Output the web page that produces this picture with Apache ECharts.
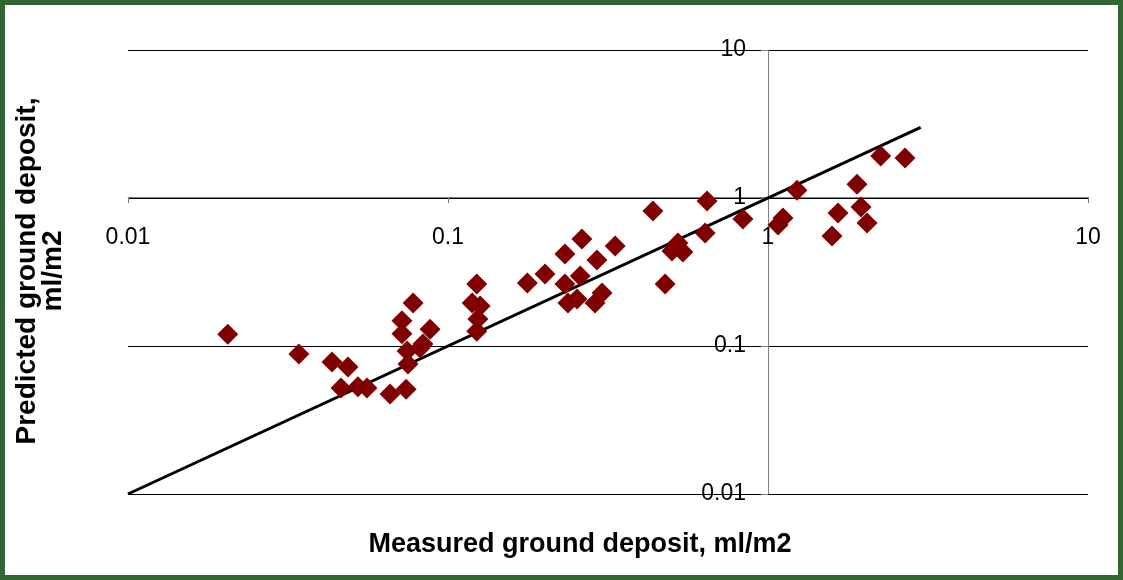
<!DOCTYPE html>
<html>
<head>
<meta charset="utf-8">
<script src="https://cdn.jsdelivr.net/npm/echarts@6/dist/echarts.min.js"></script>
<style>
  body { margin: 0; background: #fff; }
  #chart { width: 1123px; height: 580px; }
</style>
</head>
<body>
<div id="chart"></div>
<script>
// measured vs predicted ground deposit (ml/m2)
const measured = [
  0.0205, 0.0342, 0.0434, 0.0487, 0.0463, 0.0523, 0.0558, 0.0659, 0.074,
  0.0718, 0.0718, 0.0778, 0.0745, 0.075, 0.0879, 0.0835, 0.0818,
  0.123, 0.119, 0.126, 0.124, 0.123,
  0.177, 0.201, 0.232, 0.262, 0.292, 0.333, 0.232, 0.259, 0.237, 0.253, 0.288, 0.303,
  0.437, 0.477, 0.501, 0.523, 0.542, 0.636, 0.645, 0.835,
  1.232, 1.114, 1.075, 1.655, 1.585, 1.897, 1.953, 2.04, 2.25, 2.68
]
const predicted = [
  0.120, 0.0883, 0.078, 0.0722, 0.052, 0.053, 0.052, 0.0474, 0.051,
  0.148, 0.121, 0.195, 0.0925, 0.0756, 0.130, 0.103, 0.0969,
  0.262, 0.195, 0.186, 0.152, 0.126,
  0.267, 0.306, 0.419, 0.528, 0.381, 0.474, 0.262, 0.297, 0.195, 0.208, 0.195, 0.228,
  0.817, 0.262, 0.438, 0.496, 0.432, 0.580, 0.954, 0.722,
  1.13, 0.733, 0.657, 0.792, 0.554, 1.24, 0.869, 0.678, 1.92, 1.86
]
// 1:1 line
const lineX = [0.01, 3]
const lineY = [0.01, 3]
const xTicks = [0.01, 0.1, 1, 10]
const yTicks = [0.01, 0.1, 1, 10]

const font = 'Liberation Sans, Arial, sans-serif'
const axisGray = '#808080'

let points = measured.map((x, i) => [x, predicted[i]])
let line = lineX.map((x, i) => [x, lineY[i]])

const myChart = echarts.init(document.getElementById('chart'))

const option = {
  backgroundColor: '#fff',
  animation: false,
  grid: { left: 128, right: 35, top: 50, bottom: 86, outerBoundsMode: 'none' },
  xAxis: {
    type: 'log',
    logBase: 10,
    min: xTicks[0],
    max: xTicks[xTicks.length - 1],
    position: 'bottom',
    offset: -297, // sits on y = 1
    axisLine: { onZero: false, lineStyle: { color: axisGray, width: 1 } },
    axisTick: { show: true, length: 6, lineStyle: { color: axisGray } },
    axisLabel: { color: '#000', fontSize: 23, fontFamily: font, margin: 29, formatter: v => String(v) },
    splitLine: { show: false }
  },
  yAxis: {
    type: 'log',
    logBase: 10,
    min: yTicks[0],
    max: yTicks[yTicks.length - 1],
    position: 'left',
    offset: -640, // sits on x = 1
    axisLine: { onZero: false, lineStyle: { color: axisGray, width: 1 } },
    axisTick: { show: true, length: 7, lineStyle: { color: axisGray } },
    axisLabel: { color: '#000', fontSize: 23, fontFamily: font, margin: 22, formatter: v => String(v) },
    splitLine: { show: true, lineStyle: { color: '#000', width: 1 } }
  },
  series: [
    {
      type: 'line',
      data: line,
      symbol: 'none',
      lineStyle: { color: '#000', width: 3 },
      z: 2
    },
    {
      type: 'scatter',
      data: points,
      symbol: 'diamond',
      symbolSize: 21,
      itemStyle: { color: '#800000', opacity: 1 },
      z: 3
    }
  ],
  graphic: [
    {
      type: 'text',
      x: 580,
      y: 545,
      style: {
        text: 'Measured ground deposit, ml/m2',
        font: 'bold 27px ' + font,
        fill: '#000',
        align: 'center',
        verticalAlign: 'middle'
      }
    },
    {
      type: 'text',
      x: 40,
      y: 271,
      rotation: Math.PI / 2,
      style: {
        text: 'Predicted ground deposit,\nml/m2',
        font: 'bold 28px ' + font,
        lineHeight: 26,
        fill: '#000',
        align: 'center',
        verticalAlign: 'middle'
      }
    },
    {
      // green frame
      type: 'rect',
      shape: { x: 0, y: 0, width: 1123, height: 580 },
      style: { fill: 'none', stroke: '#346633', lineWidth: 10 },
      z: 100
    }
  ]
}

myChart.setOption(option)
</script>
</body>
</html>
